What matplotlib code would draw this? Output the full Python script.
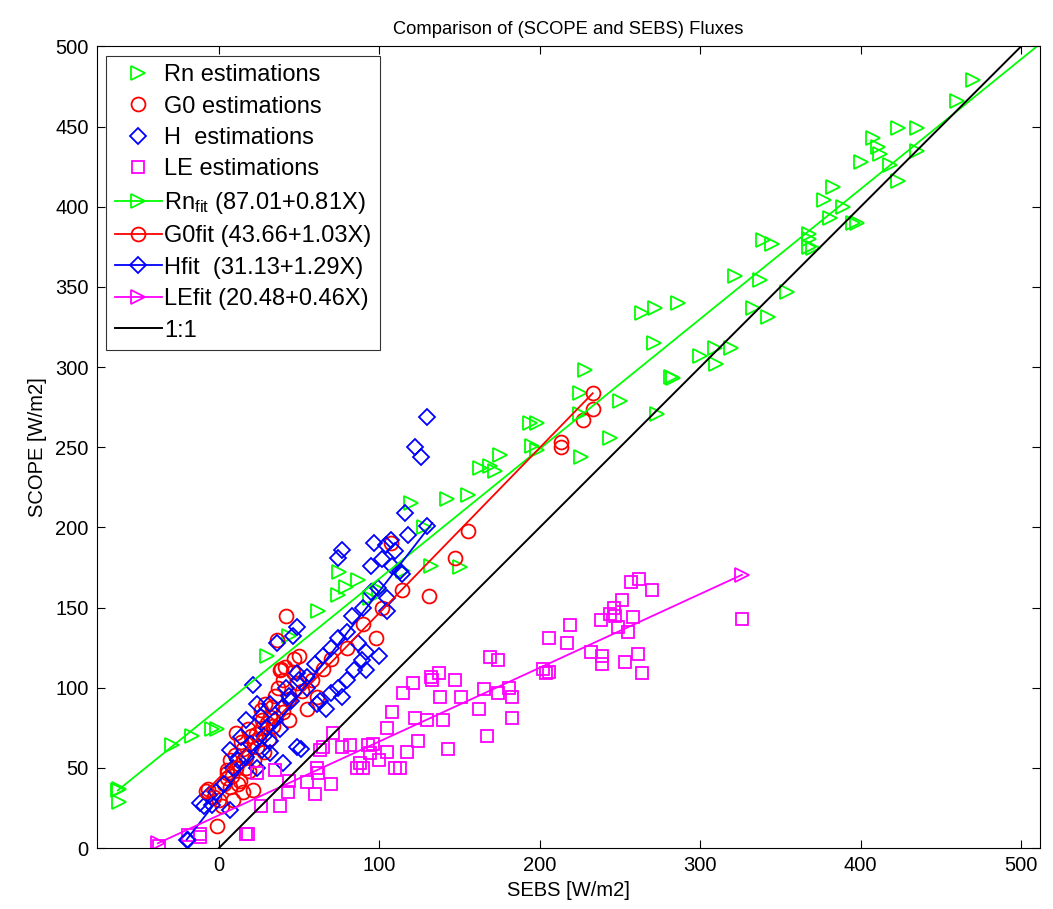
import matplotlib
matplotlib.use("Agg")
import numpy as np
import matplotlib.pyplot as plt

plt.rcParams["font.family"] = ["Liberation Sans", "DejaVu Sans"]
plt.rcParams["mathtext.default"] = "regular"

# Rn estimations (SEBS, SCOPE)
rn_x = [-62, -62, -29, -17, -4, -1, 30, 44, 62, 74, 79, 87, 94, 75, 100, 115, 120, 128,
        132, 142, 155, 150, 163, 169, 175, 172, 194, 198, 195, 198, 225, 225, 228, 250,
        244, 226, 273, 283, 264, 272, 286, 271, 282, 300, 309, 319, 310, 322, 337, 339,
        345, 333, 342, 354, 368, 370, 368, 368, 377, 381, 383, 389, 395, 398, 400, 408,
        411, 412, 418, 423, 423, 435, 435, 460, 470]
rn_y = [37, 29, 64, 70, 74, 74, 120, 132, 148, 158, 163, 167, 156, 172, 161, 173, 215, 200,
        176, 218, 220, 175, 237, 238, 245, 235, 265, 265, 251, 248, 284, 271, 298, 279,
        256, 244, 271, 293, 334, 337, 340, 315, 294, 307, 312, 312, 302, 357, 354, 379,
        377, 337, 331, 347, 380, 374, 383, 375, 404, 393, 412, 400, 390, 390, 428, 443,
        437, 433, 426, 449, 416, 449, 435, 466, 479]

# G0 estimations
g0_x = [-7, -1, 7, 21, 5, 11, 5, 7, 5, 11, 17, 17, 24, 27, 27, 32, 36, 38, 41, 42, 39, 40,
        49, 55, 61, 98, 107, 114, 131, 147, 155, 213, 213, 227, 233, 233, 0, 3, 8, 13, 15,
        20, 22, 25, 28, 30, 33, 35, 37, 40, 44, 46, 50, 52, 58, 65, 70, 80, 90, 102, 9, 15,
        -3, 10, 14, 18, 23, 26, 29, 31, 34, 19, 12, 2, 44, 47]
g0_y = [37, 14, 38, 36, 47, 72, 49, 55, 44, 50, 50, 57, 63, 75, 80, 82, 130, 111, 113, 145,
        112, 105, 103, 87, 94, 131, 190, 161, 157, 181, 198, 253, 250, 267, 284, 274, 30,
        40, 45, 42, 62, 70, 55, 68, 60, 78, 88, 95, 100, 85, 93, 110, 120, 98, 105, 112,
        118, 125, 140, 150, 30, 35, 32, 58, 66, 74, 71, 86, 90, 68, 76, 48, 40, 26, 80, 118]

# H estimations
h_x = [116, 130, 74, 97, 107, 104, 95, 102, 114, 99, 105, 105, 83, 49, 36, 46, 74, 87, 92,
       100, 89, 92, 84, 80, 74, 77, 70, 63, 67, 61, 21, 24, 32, 17, 26, 49, 50, 55, 42, 44,
       38, 32, 27, 14, 7, 17, 32, 40, 24, 9, 49, 51, -9, -12, -4, 7, -19, -6, 130, 122, 126,
       113, 108, 30, 35, 40, 45, 20, 12, 3, -2, 28, 55, 60, 65, 70, 80, 90, 95, 110, 118, 77]
h_y = [209, 201, 181, 190, 192, 189, 176, 180, 171, 162, 156, 148, 145, 138, 128, 132, 131,
       128, 122, 120, 117, 111, 111, 105, 100, 94, 97, 92, 87, 90, 102, 90, 90, 80, 82, 109,
       105, 107, 100, 95, 74, 67, 61, 69, 61, 57, 59, 53, 50, 50, 63, 62, 26, 28, 27, 24, 5,
       33, 269, 250, 244, 173, 176, 75, 80, 88, 92, 65, 55, 40, 35, 70, 100, 115, 120, 125,
       135, 150, 160, 185, 195, 186]

# LE estimations
le_x = [262, 257, 270, 251, 246, 244, 247, 238, 258, 249, 255, 326, 219, 206, 217, 232, 239,
        239, 253, 261, 264, 202, 204, 206, 169, 174, 137, 132, 147, 121, 115, 165, 174, 181,
        183, 151, 138, 162, 183, 122, 130, 140, 167, 124, 117, 143, 113, 108, 105, 110, 71,
        77, 82, 93, 96, 94, 100, 86, 88, 105, 63, 61, 62, 44, 43, 60, 70, 38, 24, 35, 17,
        -12, 26, -19, -37, -12, 18, 55, 65, 90, 133]
le_y = [168, 166, 161, 155, 150, 146, 145, 142, 144, 138, 135, 143, 139, 131, 128, 122, 120,
        115, 116, 121, 109, 112, 109, 110, 119, 117, 109, 107, 105, 103, 97, 99, 97, 100,
        94, 94, 94, 87, 81, 81, 80, 80, 70, 67, 60, 62, 50, 85, 75, 50, 72, 63, 64, 64, 65,
        59, 55, 50, 53, 60, 61, 50, 47, 42, 35, 34, 40, 26, 47, 49, 9, 9, 26, 8, 1, 7, 9,
        41, 63, 50, 105]

# fit coefficients (intercept, slope) and x range, as in the legend
fits = [("#00ff00", ">", r"Rn$_{fit}$ (87.01+0.81X)", 87.01, 0.81, -63, 512),
        ("#ff0000", "o", "G0fit (43.66+1.03X)", 43.66, 1.03, -8, 233),
        ("#0000ff", "D", "Hfit  (31.13+1.29X)", 31.13, 1.29, -20, 133),
        ("#ff00ff", ">", "LEfit (20.48+0.46X)", 20.48, 0.46, -38, 326)]

fig = plt.figure(figsize=(10.53, 9.09), dpi=100)
ax = fig.add_axes([0.092, 0.067, 0.896, 0.882])

mk = dict(linestyle="none", mfc="none", mew=1.3)
ax.plot(rn_x, rn_y, marker=">", color="#00ff00", ms=10, label="Rn estimations", **mk)
ax.plot(g0_x, g0_y, marker="o", color="#ff0000", ms=10, label="G0 estimations", **mk)
ax.plot(h_x, h_y, marker="D", color="#0000ff", ms=8, label="H  estimations", **mk)
ax.plot(le_x, le_y, marker="s", color="#ff00ff", ms=9, label="LE estimations", **mk)

for i, (c, m, lab, a, b, x0, x1) in enumerate(fits):
    xs = np.array([x0, x1])
    ax.plot(xs, a + b * xs, color=c, lw=1.3, marker=m, ms=8 if m == "D" else 10,
            mfc="none", mew=1.3, markevery=[0, 1] if i == 3 else [0], label=lab)

ax.plot([0, 520], [0, 520], color="k", lw=1.4, label="1:1")

ax.set_xlim(-76, 512)
ax.set_ylim(0, 500)
ax.set_xticks(np.arange(0, 501, 100))
ax.set_yticks(np.arange(0, 501, 50))
ax.tick_params(direction="in", top=True, right=True, length=6, labelsize=14.5, width=0.8,
               pad=6)
for s in ax.spines.values():
    s.set_linewidth(0.8)
ax.set_xlabel("SEBS [W/m2]", fontsize=14.5, labelpad=4)
ax.set_ylabel("SCOPE [W/m2]", fontsize=14.5, labelpad=6)
ax.set_title("Comparison of (SCOPE and SEBS) Fluxes", fontsize=13.2, pad=9)

leg = ax.legend(loc="upper left", fontsize=17, frameon=True, fancybox=False,
                edgecolor="k", handlelength=2.0, borderaxespad=0.4, labelspacing=0.4,
                handletextpad=0.1, borderpad=0.35)
leg.get_frame().set_linewidth(0.8)

fig.savefig("out.png", dpi=100)
